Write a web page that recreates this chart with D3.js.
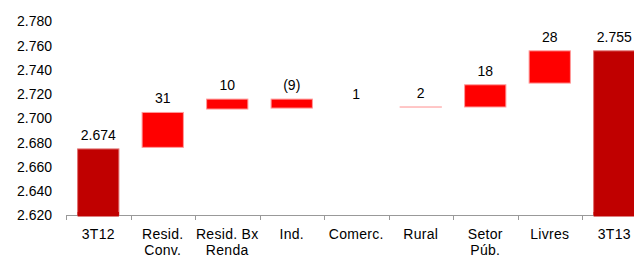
<!DOCTYPE html>
<html>
<head>
<meta charset="utf-8">
<script src="https://cdn.jsdelivr.net/npm/d3@7"></script>
<style>
  body { margin: 0; background: #fff; }
  svg { display: block; font-family: "Liberation Sans", Arial, sans-serif; }
</style>
</head>
<body>
<script>
"use strict";
// categories (line breaks as in the original)
const categories = [["3T12"], ["Resid.", "Conv."], ["Resid. Bx", "Renda"], ["Ind."], ["Comerc."], ["Rural"], ["Setor", "Púb."], ["Livres"], ["3T13"]]
// bar ends (null = no visible bar)
const lows  = [2.620, 2.6762, 2.7078, 2.7086, null, 2.7095, 2.7095, 2.7292, 2.620]
const highs = [2.6749, 2.705, 2.716, 2.716, null, 2.7095, 2.7278, 2.7558, 2.7558]
const valueLabels = ["2.674", "31", "10", "(9)", "1", "2", "18", "28", "2.755"]
const labelBase = [2.6749, 2.705, 2.716, 2.716, 2.7086, 2.7095, 2.7278, 2.7558, 2.7558]
const isTotal = [true, false, false, false, false, false, false, false, true]
const yTicks = [2.620, 2.640, 2.660, 2.680, 2.700, 2.720, 2.740, 2.760, 2.780]

const measurements = { width: 634, height: 255 }

const svg = d3.select("body").append("svg")
    .attr("width", measurements.width)
    .attr("height", measurements.height)

const x = d3.scaleBand()
    .domain(d3.range(categories.length))
    .range([66, 66 + 64.5 * categories.length])
    .paddingInner(0.36)
    .paddingOuter(0.18)

const y = d3.scaleLinear()
    .domain([2.620, 2.780])
    .range([215.5, 21.5])

const fmt = d3.format(".3f")

// y labels (no axis line)
svg.append("g")
    .selectAll("text")
    .data(yTicks)
    .join("text")
    .attr("x", 52)
    .attr("y", d => y(d))
    .attr("dy", "0.35em")
    .attr("text-anchor", "end")
    .attr("font-size", 14)
    .attr("fill", "#000")
    .text(d => fmt(d))

// bars
const idx = d3.range(categories.length).filter(i => lows[i] !== null)
svg.append("g")
    .selectAll("rect")
    .data(idx)
    .join("rect")
    .attr("x", i => x(i))
    .attr("width", x.bandwidth())
    .attr("y", i => y(highs[i]))
    .attr("height", i => Math.max(0.05, y(lows[i]) - y(highs[i])))
    .attr("fill", i => isTotal[i] ? "#c00000" : "#ff0000")
    .attr("stroke", i => isTotal[i] ? "#e07070" : "#ff9a9a")
    .attr("stroke-width", 1)

// x axis line with ticks at band edges
const step = x.step()
const edges = d3.range(categories.length + 1).map(i => 66 + i * step)
const axis = svg.append("g").attr("stroke", "#999").attr("stroke-width", 1)
axis.append("line")
    .attr("x1", edges[0]).attr("x2", edges[edges.length - 1])
    .attr("y1", 215.5).attr("y2", 215.5)
axis.selectAll(".tick")
    .data(edges)
    .join("line")
    .attr("class", "tick")
    .attr("x1", d => Math.round(d) + 0.5).attr("x2", d => Math.round(d) + 0.5)
    .attr("y1", 215.5).attr("y2", 220)

// redraw total bars' bottoms over the axis
svg.append("g")
    .selectAll("rect")
    .data(idx.filter(i => isTotal[i]))
    .join("rect")
    .attr("x", i => x(i))
    .attr("width", x.bandwidth())
    .attr("y", 212)
    .attr("height", 4.5)
    .attr("fill", "#c00000")

// category labels
const cats = svg.append("g")
    .selectAll("text")
    .data(categories)
    .join("text")
    .attr("x", (d, i) => x(i) + x.bandwidth() / 2)
    .attr("y", 239)
    .attr("text-anchor", "middle")
    .attr("font-size", 14)
    .attr("letter-spacing", 0.3)
    .attr("fill", "#000")
cats.selectAll("tspan")
    .data(d => d)
    .join("tspan")
    .attr("x", function () { return this.parentNode.getAttribute("x") })
    .attr("dy", (d, j) => j === 0 ? 0 : 16)
    .text(d => d)

// value labels
svg.append("g")
    .selectAll("text")
    .data(valueLabels)
    .join("text")
    .attr("x", (d, i) => x(i) + x.bandwidth() / 2)
    .attr("y", (d, i) => y(labelBase[i]) - 9)
    .attr("text-anchor", "middle")
    .attr("font-size", 14)
    .attr("fill", "#000")
    .text(d => d)
</script>
</body>
</html>
